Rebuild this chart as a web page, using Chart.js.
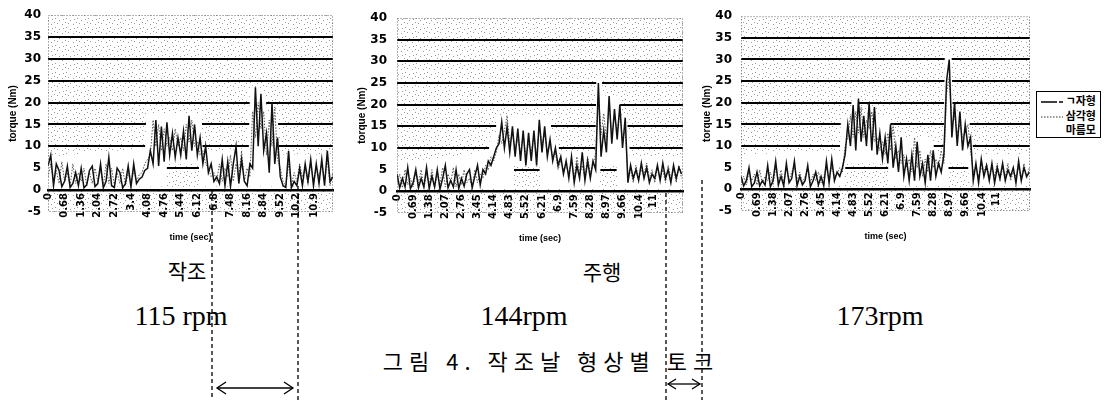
<!DOCTYPE html>
<html><head><meta charset="utf-8">
<script src="https://cdn.jsdelivr.net/npm/chart.js@4.4.1/dist/chart.umd.min.js"></script>
<style>
html,body{margin:0;padding:0;background:#fff;}
body{width:1107px;height:400px;position:relative;overflow:hidden;}
canvas{position:absolute;top:0;}
.t{position:absolute;white-space:nowrap;color:#000;transform:translate(-50%,-50%);line-height:1;}
.kr{font-family:"Noto Sans CJK KR",sans-serif;}
.rpm{font-family:"Liberation Serif",serif;font-size:28px;}
#legend{position:absolute;left:1036px;top:91px;width:63px;height:45px;border:1.5px solid #000;background:#fff;font-family:"Noto Sans CJK KR",sans-serif;font-size:11px;font-weight:bold;}
#legend .row{position:absolute;left:0;width:63px;height:14px;}
#legend .row span{position:absolute;right:4px;top:-2px;line-height:14px;}
#legend svg{position:absolute;left:3px;top:0;}
#ov{position:absolute;left:0;top:0;z-index:5;pointer-events:none;}
</style></head><body>
<canvas id="c1" width="345" height="250" style="left:0px;width:345px;height:250px"></canvas>
<canvas id="c2" width="345" height="250" style="left:350px;width:345px;height:250px"></canvas>
<canvas id="c3" width="345" height="250" style="left:700px;width:345px;height:250px"></canvas>

<div id="legend">
  <div class="row" style="top:3px"><svg width="26" height="14"><line x1="1" y1="7" x2="17" y2="7" stroke="#000" stroke-width="1.5"/><line x1="19" y1="7" x2="23" y2="7" stroke="#000" stroke-width="1.5"/></svg><span id="lg0"></span></div>
  <div class="row" style="top:18px"><svg width="26" height="14"><line x1="1" y1="7" x2="23" y2="7" stroke="#333" stroke-width="1" stroke-dasharray="1.5 1.5"/></svg><span id="lg1"></span></div>
  <div class="row" style="top:32px"><span id="lg2"></span></div>
</div>

<div class="t kr" style="left:187px;top:270px;font-size:21px">작조</div>
<div class="t kr" style="left:602px;top:271px;font-size:21px">주행</div>
<div class="t rpm" style="left:181px;top:316px">115 rpm</div>
<div class="t rpm" style="left:524px;top:316px">144rpm</div>
<div class="t rpm" style="left:880px;top:316px">173rpm</div>
<div class="t kr" style="left:551px;top:360px;font-size:22px;letter-spacing:6px">그림 4. 작조날 형상별 토크</div>

<svg id="ov" width="1107" height="400">
  <g stroke="#000" stroke-width="1.3" stroke-dasharray="4 3" fill="none">
    <line x1="212" y1="190" x2="212" y2="400"/>
    <line x1="298" y1="186" x2="298" y2="400"/>
    <line x1="666" y1="193" x2="666" y2="400"/>
    <line x1="702" y1="180" x2="702" y2="400"/>
  </g>
  <g stroke="#000" stroke-width="1.3" fill="none">
    <line x1="217" y1="388" x2="293" y2="388"/>
    <polyline points="226,382 217,388 226,394"/>
    <polyline points="284,382 293,388 284,394"/>
    <line x1="668" y1="384" x2="700" y2="384"/>
    <polyline points="676,379 668,384 676,389"/>
    <polyline points="692,379 700,384 692,389"/>
  </g>
</svg>

<script>
// ---- tick labels ----
const tickLabels115 = ["0","0.68","1.36","2.04","2.72","3.4","4.08","4.76","5.44","6.12","6.8","7.48","8.16","8.84","9.52","10.2","10.9"];
const tickLabels144 = ["0","0.69","1.38","2.07","2.76","3.45","4.14","4.83","5.52","6.21","6.9","7.59","8.28","8.97","9.66","10.4","11"];
const tickLabels173 = ["0","0.69","1.38","2.07","2.76","3.45","4.14","4.83","5.52","6.21","6.9","7.59","8.28","8.97","9.66","10.4","11"];
const seriesNames = ["ㄱ자형","삼각형","마름모"];
const sampleStep115 = 0.68/6;
const sampleStep144 = 0.69/6;
const sampleStep173 = 0.69/6;

// ---- 115 rpm ----
const jahyeong115 = [5.5,8,1,6,4.5,0.8, 2,5.5,0.6,1.5,4,1, 5,0.5,1.2,4.5,5.5,0.8, 1.5,6,0.5,2,7.5,1,
  0.6,5,4,0.5,1.5,5.5, 0.7,6,1.5,2.5,3,4.5, 5,9,6,16,5.5,14.5, 6.5,15.5,8,13,7.5,12,
  8,13.5,7,17,9,15, 8,12,6,10,4,6, 2,3,1.5,7,1,6.5, 0.8,6,10,1.5,7,2,
  1,6,5,23.5,10,22, 9,13,4,20,6,12, 3,1,0.6,9,0.5,2, 1,5,1,6,2,7, 1,6,1.5,7,1,9,2,3];
const samgak115 = [3,6,2,4.5,1.5,6.5, 2,4,1,6,1.5,4, 2,5,1,4,1.5,5, 2,4.5,1,6,1.5,5,
  1,4,1.5,5,1,4, 1.5,4.5,2,3.5,4,6, 7,8,16,10,15,9, 14,10,12,9,14,10,
  12,9,15,11,16,10, 11,8,9,6,5,3, 4,2,6,2,5,3, 8,2,6,3,9,2,
  5,3,18,12,20,14, 18,8,16,10,19,7, 5,2,1,6,1,4, 2,6,3,5,1.5,6, 2,5,3,6,2,7,1,4];
const bandTime115 = [0,4.0,4.05,6.28,6.32,8.25,8.3,8.9,8.95,9.4,9.45,11.7];
const bandUpper115 = [7.5,9.5,17.5,17.5,8.5,9.5,24,22,17,17,8,8];
const lowTime115 = [0,4.84,4.88,6.18,6.22,11.7];
const lowVal115 = [0.8,0.8,6,6,0.8,0.8];

// ---- 144 rpm ----
const jahyeong144 = [4,0.8,3,1,5.5,0.6, 2,5,0.8,3,1,5.5, 0.6,3.5,1,5,0.5,3, 6,0.8,2.5,1,5,0.6,
  3,1.2,4,5,0.8,3.5, 6,1.5,5,4,7,6, 8,10,11,16,10,15, 9,15,8,14.5,7,14,
  6,13.5,7,14,6,16.5, 9,15,8,12,7,10, 6,8,4,7,3,8, 2,6,3,9,2.5,7,
  3,7,5,25,8,14, 9,22,11,19,12,20, 10,17,2,6,3,5, 2.5,6.5,3,5.5,2,4, 3,6,2.5,6.5,3,5, 2,6,3,5.5,4];
const samgak144 = [2,4,0.8,5,1.5,3, 1,4.5,2,5,0.8,4, 1.5,5,0.8,4,1.5,5.5, 1,4,2,5.5,1,4,
  1.5,5,2,3,1,5, 2,4,3,6,5,8, 7,9,13,11,14,17.5, 11,13,10,12,9,13,
  8,11,9,13,8,15, 11,13,9,11,8,9, 5,7,5,6,4,7, 3,8,4,6,3,8,
  4,6,9,23,13,18, 12,20,13,17,14,18, 12,14,4,5,2,6, 3,5,4,6.5,3,5, 2,5.5,3,5,2,6, 3,5,2,6,3];
const bandTime144 = [0,3.95,4.0,4.25,4.3,6.55,6.6,6.88,6.93,8.52,8.56,8.75,8.8,9.52,9.56,9.84,9.87,9.9,9.93,12.25];
const bandUpper144 = [6.5,9,12.5,13.5,17.5,17.5,13,12,8.5,9,26,26,22,22,17,17,12,12,8,8];
const lowTime144 = [0,4.98,5.02,6.1,6.14,8.68,8.72,9.4,9.44,12.25];
const lowVal144 = [0.8,0.8,6,6,0.8,0.8,6,6,0.8,0.8];

// ---- 173 rpm ----
const jahyeong173 = [3,0.8,2,5,0.6,1.5, 4,0.8,2,1,5.5,0.6, 2,6.5,1,3,0.8,6, 1.5,2.5,6.5,0.8,3,1,
  2,5.5,0.6,2,4,1, 3,0.8,6.5,1.5,7,2, 4,3,5,8,15,10, 19.5,9,21,11,17,10,
  20,9,19,8,13,7, 12,6,15,5,10,4, 12,3,7,2,8,2, 11,3,6,1.5,8,2,
  9,3,6,4,8,25, 30,12,20,10,18,9, 15,10,12,2,6,1.5, 7,3,5.5,2,6,1.5, 5,2.5,6,2,4.5,3, 5,1.5,6.5,2,5,3,4];
const samgak173 = [1.5,3,1,4,2,3.5, 1,4.5,1.5,3,2,4, 1,5,2,4.5,1.5,5, 2,4,5.5,2,4,1.5,
  3,4.5,1.5,3.5,2,4, 1.5,3,5,2,5.5,3, 3.5,5,4,10,12,17, 12,18,13,19,12,16,
  14,18,11,12,9,11, 8,13,9,15,7,9, 6,8,5,7,4,12, 5,9,3,7,4,9,
  5,7,5,9,6,22, 26,15,17,13,15,12, 13,15,9,4,5,3, 5,4,6,3,5,3, 6,2,5,3,6,2, 4,3,5,2,6,2.5,5];
const bandTime173 = [0,4.28,4.33,4.75,4.8,5.0,5.05,6.4,6.45,8.25,8.3,8.75,8.8,9.05,9.1,9.78,9.82,9.94,9.98,12.45];
const bandUpper173 = [8,8.5,17,17,22,22,17,17,12,12,8.5,8.5,31,31,17,17,12,12,8,8];
const lowTime173 = [0,4.45,4.5,6.33,6.38,8.9,8.95,9.78,9.83,12.45];
const lowVal173 = [0.8,0.8,6,6,0.8,0.8,6,6,0.8,0.8];

document.getElementById('lg0').textContent = seriesNames[0];
document.getElementById('lg1').textContent = seriesNames[1];
document.getElementById('lg2').textContent = seriesNames[2];

const stipple = (() => {
  const c = document.createElement('canvas'); c.width = 11; c.height = 9;
  const g = c.getContext('2d'); g.fillStyle = '#9a9a9a';
  [[0,0],[4,2],[8,1],[2,5],[7,6],[10,4]].forEach(([x,y]) => g.fillRect(x,y,1,1));
  return c;
})();
const bgPlugin = {
  id: 'bg',
  beforeDraw(chart) {
    const {ctx, chartArea: a} = chart;
    ctx.save();
    ctx.fillStyle = ctx.createPattern(stipple, 'repeat');
    ctx.fillRect(a.left, a.top, a.right - a.left, a.bottom - a.top);
    ctx.restore();
  },
  afterDraw(chart) {
    const {ctx, chartArea: a} = chart;
    ctx.save();
    ctx.strokeStyle = '#666'; ctx.lineWidth = 1; ctx.setLineDash([1, 2]);
    ctx.strokeRect(a.left + 0.5, a.top + 0.5, a.right - a.left - 1, a.bottom - a.top - 1);
    ctx.restore();
  }
};

function makeChart(id, c) {
  const pts = (vals, step) => vals.map((v, i) => ({x: i * step, y: v}));
  const pairs = (ts, vs) => ts.map((t, i) => ({x: t, y: vs[i]}));
  return new Chart(document.getElementById(id), {
    type: 'line',
    data: { datasets: [
      {label: seriesNames[0], data: pts(c.a, c.step), borderColor: '#111', borderWidth: 1.5, pointRadius: 0, fill: false, order: 1},
      {label: seriesNames[1], data: pts(c.b, c.step), borderColor: '#555', borderWidth: 1, borderDash: [1.5, 1.5], pointRadius: 0, fill: false, order: 2},
      {label: seriesNames[2], data: pairs(c.bandT, c.bandU), borderColor: '#fff', borderWidth: 1, backgroundColor: '#fff', pointRadius: 0, fill: 3, order: 3},
      {label: '', data: pairs(c.lowT, c.lowV), borderColor: 'rgba(0,0,0,0)', borderWidth: 1, pointRadius: 0, fill: false, order: 4}
    ]},
    options: {
      responsive: false, animation: false, events: [],
      layout: {padding: {top: c.pt, right: c.pr, bottom: c.pb, left: 0}},
      plugins: {legend: {display: false}, tooltip: {enabled: false}},
      elements: {line: {tension: 0}},
      scales: {
        x: {
          type: 'linear', min: 0, max: c.xmax, position: {y: 0}, z: 1,
          afterBuildTicks: s => { s.ticks = c.ticks.map(l => ({value: parseFloat(l)})); },
          ticks: {autoSkip: false, minRotation: 90, maxRotation: 90, padding: 3, color: '#000',
            font: {family: 'DejaVu Sans', weight: 'bold', size: 10},
            callback: (v, i) => c.ticks[i]},
          grid: {display: false, drawTicks: false},
          border: {display: true, color: '#000', width: 2.5},
          title: {display: true, text: 'time (sec)', color: '#000',
            font: {family: 'Liberation Sans', weight: 'bold', size: 9}, padding: {top: 11, bottom: 0}}
        },
        y: {
          min: -5, max: 40,
          afterFit: s => { s.width = c.yw; },
          ticks: {stepSize: 5, padding: c.tp, color: '#000', font: {family: 'DejaVu Sans', weight: 'bold', size: 12}},
          grid: {drawTicks: false, lineWidth: 2,
            color: ctx => (ctx.tick && (ctx.tick.value === -5 || ctx.tick.value === 40)) ? 'rgba(0,0,0,0)' : '#000'},
          border: {display: false},
          title: {display: true, text: 'torque (Nm)', color: '#000',
            font: {family: 'Liberation Sans', weight: 'bold', size: 10}, padding: {top: c.ytp, bottom: 0}}
        }
      }
    },
    plugins: [bgPlugin]
  });
}

makeChart('c1', {a: jahyeong115, b: samgak115, step: sampleStep115, bandT: bandTime115, bandU: bandUpper115,
  lowT: lowTime115, lowV: lowVal115, ticks: tickLabels115, xmax: 11.68, pt: 15, pr: 12, pb: 38, yw: 48, tp: 7, ytp: 7});
makeChart('c2', {a: jahyeong144, b: samgak144, step: sampleStep144, bandT: bandTime144, bandU: bandUpper144,
  lowT: lowTime144, lowV: lowVal144, ticks: tickLabels144, xmax: 12.25, pt: 18, pr: 12, pb: 37, yw: 47, tp: 10, ytp: 6});
makeChart('c3', {a: jahyeong173, b: samgak173, step: sampleStep173, bandT: bandTime173, bandU: bandUpper173,
  lowT: lowTime173, lowV: lowVal173, ticks: tickLabels173, xmax: 12.45, pt: 15, pr: 15, pb: 39, yw: 41, tp: 9, ytp: 1});
</script>
</body></html>
